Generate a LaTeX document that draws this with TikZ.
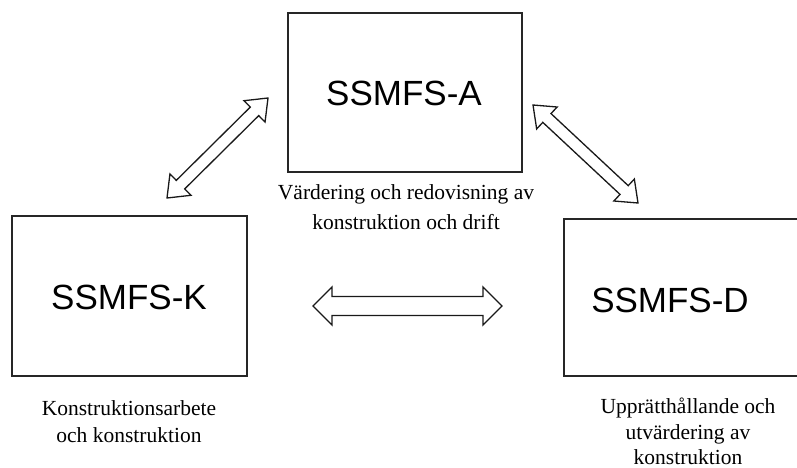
\documentclass[tikz,border=0pt]{standalone}
\usepackage{fontspec}
\setmainfont{Liberation Serif}
\newfontfamily\boxfont{Liberation Sans}
\usetikzlibrary{calc}

\tikzset{
  regbox/.style={draw=black!85, line width=1.8pt, fill=white},
  regname/.style={font=\boxfont\fontsize{35}{40}\selectfont, inner sep=0pt},
  caption/.style={font=\fontsize{21.5}{27}\selectfont, align=center, inner sep=0pt, anchor=north},
  hollow/.style={draw=black!90, line width=1.3pt, fill=white, line join=miter}
}

% hollow double-headed arrow between two named coordinates
% \hollowdbl{from}{to}{head length}{head half-width}{shaft half-width}
\newcommand\hollowdbl[5]{%
  \coordinate (#1-hb) at ($(#1)!#3!(#2)$);
  \coordinate (#2-hb) at ($(#2)!#3!(#1)$);
  \draw[hollow] (#1)
    -- ($(#1-hb)!#4!90:(#2)$)
    -- ($(#1-hb)!#5!90:(#2)$)
    -- ($(#2-hb)!#5!-90:(#1)$)
    -- ($(#2-hb)!#4!-90:(#1)$)
    -- (#2)
    -- ($(#2-hb)!#4!90:(#1)$)
    -- ($(#2-hb)!#5!90:(#1)$)
    -- ($(#1-hb)!#5!-90:(#2)$)
    -- ($(#1-hb)!#4!-90:(#2)$)
    -- cycle;
}

\begin{document}
\begin{tikzpicture}[x=1pt, y=-1pt]
  \useasboundingbox (0,0) rectangle (797,468);

  % the three regulation boxes
  \draw[regbox] (288,13) rectangle (522,172);
  \draw[regbox] (12,216) rectangle (247,376);
  \draw[regbox] (564,219) rectangle (820,376);

  \node[regname] (a) at (404,93.5) {SSMFS-A};
  \node[regname] (k) at (129,297.5) {SSMFS-K};
  \node[regname] (d) at (670,300) {SSMFS-D};

  % captions under the boxes
  \node[caption] (ca) at (406,184.5) {Värdering och redovisning av\\[3pt]konstruktion och drift};
  \node[caption] (ck) at (129,400) {Konstruktionsarbete\\och konstruktion};
  \node[caption] (cd) at (688,397.5) {Upprätthållande och\\[-1pt]utvärdering av\\[-1.5pt]konstruktion};

  % arrow end points
  \coordinate (ak1) at (167,198);
  \coordinate (ak2) at (268,98);
  \coordinate (ad1) at (533,105);
  \coordinate (ad2) at (638,203);
  \coordinate (kd1) at (313,306);
  \coordinate (kd2) at (502,306);

  \hollowdbl{ak1}{ak2}{19pt}{15pt}{6pt}
  \hollowdbl{ad1}{ad2}{19pt}{15pt}{6pt}
  \hollowdbl{kd1}{kd2}{19pt}{19pt}{9.5pt}
\end{tikzpicture}
\end{document}
